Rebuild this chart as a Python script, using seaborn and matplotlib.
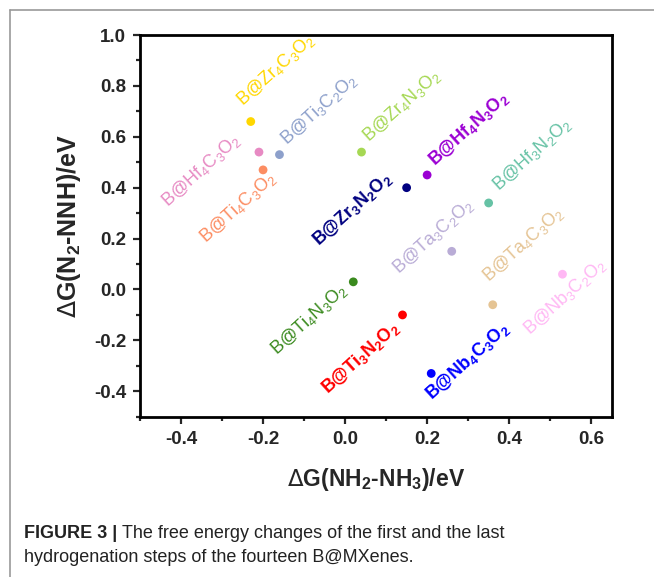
import re

import matplotlib
matplotlib.use('Agg')
import matplotlib.pyplot as plt
from matplotlib.lines import Line2D
from matplotlib.ticker import MultipleLocator
import pandas as pd
import seaborn as sns

# B@MXene data
names = ['Zr4C3O2', 'Hf4C3O2', 'Ti3C2O2', 'Ti4C3O2', 'Zr4N3O2', 'Hf4N3O2',
         'Zr3N2O2', 'Hf3N2O2', 'Ta3C2O2', 'Ti4N3O2', 'Ti3N2O2', 'Ta4C3O2',
         'Nb3C2O2', 'Nb4C3O2']
dg_nh2_nh3 = [-0.23, -0.21, -0.16, -0.20, 0.04, 0.20,
              0.15, 0.35, 0.26, 0.02, 0.14, 0.36,
              0.53, 0.21]
dg_n2_nnh = [0.66, 0.54, 0.53, 0.47, 0.54, 0.45,
             0.40, 0.34, 0.15, 0.03, -0.10, -0.06,
             0.06, -0.33]

colors = ['#ffd700', '#e78ac3', '#8da0cb', '#fc8d62', '#a6d854', '#9b00d3',
          '#000080', '#66c2a5', '#b9acd6', '#3a8a1e', '#ff0000', '#e5c494',
          '#ffb8f4', '#0000ff']
bold = {'Hf4N3O2', 'Zr3N2O2', 'Ti3N2O2', 'Nb4C3O2'}
# label offsets from each point, in pixels
offsets = {'Zr4C3O2': (-8, 15), 'Hf4C3O2': (-91, -55), 'Ti3C2O2': (7, 9),
           'Ti4C3O2': (-57, -73), 'Zr4N3O2': (7, 10), 'Hf4N3O2': (8, 9),
           'Zr3N2O2': (-88, -59), 'Hf3N2O2': (10, 12), 'Ta3C2O2': (-53, -23),
           'Ti4N3O2': (-77, -73), 'Ti3N2O2': (-75, -79), 'Ta4C3O2': (-4, 22),
           'Nb3C2O2': (-33, -61), 'Nb4C3O2': (0, -27)}

df = pd.DataFrame({'name': names, 'x': dg_nh2_nh3, 'y': dg_n2_nnh})

sns.set_style('ticks')
plt.rcParams['font.family'] = ['Liberation Sans', 'DejaVu Sans']

fig = plt.figure(figsize=(6.54, 5.77), dpi=100)
ax = fig.add_axes([0.2141, 0.2778, 0.7212, 0.6615])

sns.scatterplot(data=df, x='x', y='y', hue='name',
                palette=dict(zip(names, colors)), s=40, linewidth=0,
                legend=False, ax=ax)


def sub(name):
    return 'B@' + re.sub(r'(\d)', r'$\\mathregular{_\1}$', name)


for n, c, x, y in zip(names, colors, dg_nh2_nh3, dg_n2_nnh):
    ax.annotate(sub(n), xy=(x, y), xytext=offsets[n],
                textcoords='offset pixels', color=c, fontsize=13,
                fontweight='bold' if n in bold else 'normal',
                rotation=42, rotation_mode='anchor',
                ha='left', va='baseline')

ax.set_xlim(-0.5, 0.65)
ax.set_ylim(-0.5, 1.0)
ax.xaxis.set_minor_locator(MultipleLocator(0.1))
ax.yaxis.set_minor_locator(MultipleLocator(0.1))
ax.set_xticks([-0.4, -0.2, 0.0, 0.2, 0.4, 0.6])
ax.set_xticklabels(['-0.4', '-0.2', '0.0', '0.2', '0.4', '0.6'])
ax.set_yticks([-0.4, -0.2, 0.0, 0.2, 0.4, 0.6, 0.8, 1.0])
ax.set_yticklabels(['-0.4', '-0.2', '0.0', '0.2', '0.4', '0.6', '0.8', '1.0'])
ax.tick_params(which='major', length=5, width=1.6, labelsize=13.5, pad=5)
ax.tick_params(which='minor', length=3, width=1.6)
for lab in ax.get_xticklabels() + ax.get_yticklabels():
    lab.set_fontweight('bold')
for sp in ax.spines.values():
    sp.set_linewidth(2)
    sp.set_color('black')

ax.set_xlabel(r'$\Delta$G(NH$\mathregular{_2}$-NH$\mathregular{_3}$)/eV',
              fontsize=16.5, fontweight='bold', labelpad=13)
ax.set_ylabel(r'$\Delta$G(N$\mathregular{_2}$-NNH)/eV',
              fontsize=18, fontweight='bold', labelpad=8)

# frame of the figure panel
fig.add_artist(Line2D([10 / 654, 10 / 654], [1 - 10 / 577, 0],
                      transform=fig.transFigure, color='#999999', lw=1.2))
fig.add_artist(Line2D([10 / 654, 1], [1 - 10 / 577, 1 - 10 / 577],
                      transform=fig.transFigure, color='#999999', lw=1.2))

# caption
t1 = fig.text(24 / 654, 1 - 533 / 577, 'FIGURE 3 |', fontsize=13,
              fontweight='bold', color='#222222', va='center')
fig.canvas.draw()
bb = t1.get_window_extent()
fig.text(bb.x1 / 654 + 5 / 654, 1 - 533 / 577,
         'The free energy changes of the first and the last',
         fontsize=13, color='#222222', va='center')
fig.text(24 / 654, 1 - 558 / 577,
         'hydrogenation steps of the fourteen B@MXenes.',
         fontsize=13, color='#222222', va='center')

fig.savefig('out.png', dpi=100)
